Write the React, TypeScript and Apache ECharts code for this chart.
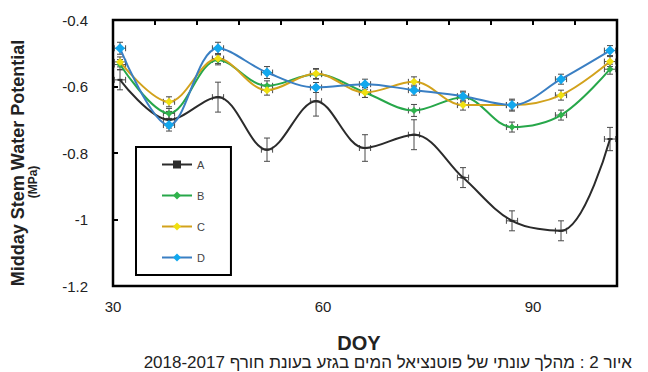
import React, { useEffect, useRef } from "react";
import * as echarts from "echarts";

const days = [31, 38, 45, 52, 59, 66, 73, 80, 87, 94, 101];
const seriesNames = ["A", "B", "C", "D"];
const valuesA = [-0.58, -0.7, -0.632, -0.79, -0.644, -0.785, -0.745, -0.874, -1.004, -1.034, -0.758];
const valuesB = [-0.534, -0.681, -0.52, -0.598, -0.563, -0.618, -0.672, -0.632, -0.722, -0.686, -0.548];
const valuesC = [-0.526, -0.646, -0.516, -0.611, -0.561, -0.618, -0.586, -0.656, -0.656, -0.626, -0.525];
const valuesD = [-0.485, -0.716, -0.485, -0.558, -0.603, -0.593, -0.611, -0.629, -0.656, -0.578, -0.492];
const errA = [0.03, 0.025, 0.045, 0.035, 0.045, 0.04, 0.045, 0.03, 0.03, 0.03, 0.035];
const errB = [0.015, 0.015, 0.015, 0.015, 0.015, 0.015, 0.018, 0.015, 0.015, 0.015, 0.015];
const errC = [0.015, 0.015, 0.015, 0.015, 0.015, 0.015, 0.015, 0.015, 0.015, 0.015, 0.015];
const errD = [0.018, 0.018, 0.018, 0.018, 0.015, 0.015, 0.015, 0.015, 0.018, 0.015, 0.015];
const dayErr = 0.8;
const yTicks = [-1.2, -1, -0.8, -0.6, -0.4];
const xLabels = [30, 60, 90];

const lineColors = ["#2b2b2b", "#27a74a", "#d2a21c", "#3a7fc3"];
const markerColors = ["#2b2b2b", "#2fb34c", "#f0e010", "#12a8ee"];
const markerSymbols = ["rect", "diamond", "diamond", "diamond"];
const markerSizes = [[5, 2], 7, 8, 10];

const allValues = [valuesA, valuesB, valuesC, valuesD];
const allErr = [errA, errB, errC, errD];

export default function App() {
  const ref = useRef<HTMLDivElement>(null);
  useEffect(() => {
    if (!ref.current) return;
    const chart = echarts.init(ref.current, undefined, { renderer: "svg" });

    const lineSeries = seriesNames.map((name, i) => ({
      name,
      type: "line",
      data: days.map((d, j) => [d, allValues[i][j]]),
      smooth: 0.35,
      symbol: markerSymbols[i],
      symbolSize: markerSizes[i],
      showAllSymbol: true,
      lineStyle: { color: lineColors[i], width: 2 },
      itemStyle: { color: markerColors[i], borderWidth: 0 },
      z: 3 + i,
      xAxisIndex: 0,
      yAxisIndex: 0,
    }));

    const errSeries = seriesNames.map((name, i) => ({
      name: "err" + name,
      type: "custom",
      xAxisIndex: 0,
      yAxisIndex: 0,
      z: 2,
      encode: { x: 0, y: 1 },
      data: days.map((d, j) => [d, allValues[i][j], allErr[i][j]]),
      renderItem: (params: any, api: any) => {
        const x = api.value(0);
        const y = api.value(1);
        const e = api.value(2);
        const top = api.coord([x, y + e]);
        const bot = api.coord([x, y - e]);
        const l = api.coord([x - dayErr, y]);
        const r = api.coord([x + dayErr, y]);
        const cap = 3;
        const st = { stroke: "#4a4a4a", lineWidth: 1 };
        const mk = (x1: number, y1: number, x2: number, y2: number) => ({
          type: "line",
          shape: { x1, y1, x2, y2 },
          style: st,
        });
        return {
          type: "group",
          children: [
            mk(top[0], top[1], bot[0], bot[1]),
            mk(top[0] - cap, top[1], top[0] + cap, top[1]),
            mk(bot[0] - cap, bot[1], bot[0] + cap, bot[1]),
            mk(l[0], l[1], r[0], r[1]),
            mk(l[0], l[1] - cap, l[0], l[1] + cap),
            mk(r[0], r[1] - cap, r[0], r[1] + cap),
          ],
        };
      },
    }));

    chart.setOption({
      animation: false,
      backgroundColor: "#ffffff",
      grid: {
        left: 113,
        right: 31,
        top: 20,
        bottom: 86,
        show: true,
        borderColor: "#000",
        borderWidth: 2.5,
        backgroundColor: "transparent",
      },
      legend: {
        data: seriesNames,
        orient: "vertical",
        left: 136,
        top: 147,
        itemWidth: 30,
        itemHeight: 10,
        itemGap: 20,
        padding: [12, 26, 12, 25],
        borderColor: "#000",
        borderWidth: 2,
        backgroundColor: "#fff",
        textStyle: { fontSize: 11, color: "#444", fontFamily: "Liberation Sans" },
      },
      xAxis: [
        {
          type: "value",
          position: "bottom",
          min: 30,
          max: 102,
          interval: 6,
          axisLine: { show: false },
          axisTick: { show: false },
          splitLine: { show: false },
          axisLabel: {
            margin: 13,
            fontSize: 15,
            color: "#222",
            fontFamily: "Liberation Sans",
            formatter: (v: number) => (xLabels.includes(Math.round(v)) ? String(Math.round(v)) : ""),
          },
        },
        {
          type: "value",
          position: "top",
          min: 30,
          max: 102,
          interval: 6,
          axisLine: { show: false },
          axisTick: { show: true, inside: true, length: 5, lineStyle: { color: "#000", width: 2 } },
          splitLine: { show: false },
          axisLabel: { show: false },
        },
      ],
      yAxis: {
        type: "value",
        min: -1.2,
        max: -0.4,
        interval: 0.2,
        axisLine: { show: false },
        axisTick: { show: true, inside: true, length: 5, lineStyle: { color: "#000", width: 2 } },
        splitLine: { show: false },
        axisLabel: {
          margin: 25,
          fontSize: 15,
          color: "#222",
          fontFamily: "Liberation Sans",
          formatter: (v: number) => {
            const t = yTicks.find((k) => Math.abs(k - v) < 1e-6);
            return t === undefined ? "" : String(t);
          },
        },
      },
      graphic: [
        {
          type: "text",
          x: 18,
          y: 163,
          rotation: Math.PI / 2,
          style: {
            text: "Midday Stem Water Potential",
            fontSize: 18,
            fontWeight: "bold",
            fontFamily: "Liberation Sans",
            fill: "#222",
            align: "center",
            verticalAlign: "middle",
          },
        },
        {
          type: "text",
          x: 33,
          y: 182,
          rotation: Math.PI / 2,
          style: {
            text: "(MPa)",
            fontSize: 12,
            fontWeight: "bold",
            fontFamily: "Liberation Sans",
            fill: "#222",
            align: "center",
            verticalAlign: "middle",
          },
        },
        {
          type: "text",
          x: 359,
          y: 343,
          style: {
            text: "DOY",
            fontSize: 20,
            fontWeight: "bold",
            fontFamily: "Liberation Sans",
            fill: "#222",
            align: "center",
            verticalAlign: "middle",
          },
        },
        {
          type: "text",
          x: 632,
          y: 362,
          style: {
            text: "\u202Bאיור 2 : מהלך עונתי של פוטנציאל המים בגזע בעונת חורף 2018-2017\u202C",
            fontSize: 17,
            fontFamily: "Liberation Sans",
            fill: "#222",
            align: "right",
            verticalAlign: "middle",
          },
        },
      ],
      series: [...errSeries, ...lineSeries],
    });
    return () => chart.dispose();
  }, []);
  return <div ref={ref} style={{ width: 648, height: 372, position: "fixed", left: 0, top: 0 }} />;
}
